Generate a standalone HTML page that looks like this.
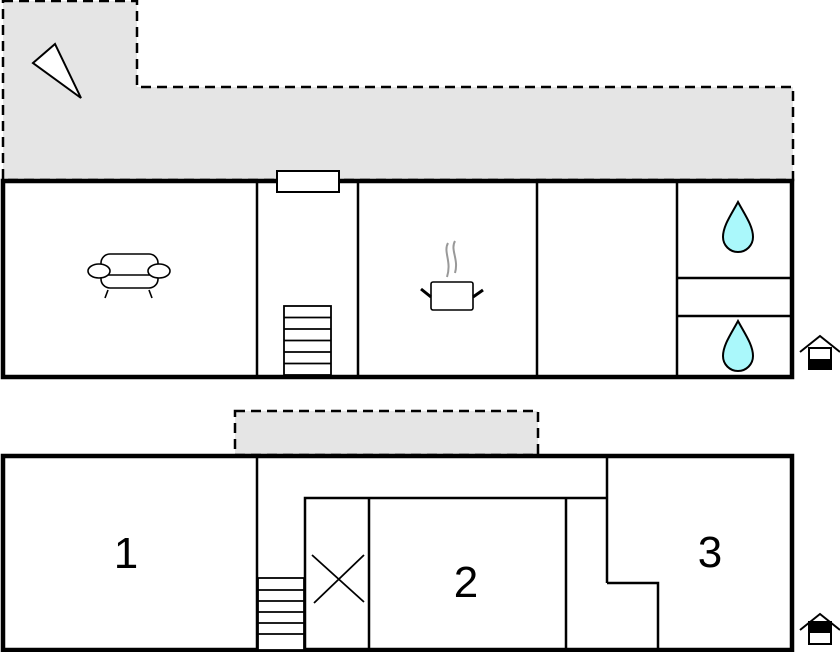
<!DOCTYPE html>
<html><head><meta charset="utf-8"><style>body{margin:0;background:#fff}svg{display:block}</style></head>
<body>
<svg width="840" height="652" viewBox="0 0 840 652" xmlns="http://www.w3.org/2000/svg" font-family="Liberation Sans, sans-serif">
<defs>
<path id="drop" d="M0,-26 C-7,-13 -15,-2 -15,9 A15,15 0 0 0 15,9 C15,-2 7,-13 0,-26Z"/>
</defs>
<path d="M3,1 H137 V87 H793 V180 H3 Z" fill="#e5e5e5" stroke="#000" stroke-width="2.5" stroke-dasharray="10,6"/>
<rect x="235" y="411" width="303" height="44" fill="#e5e5e5" stroke="#000" stroke-width="2.5" stroke-dasharray="10,6"/>
<polygon points="33,63 55,44 81,98" fill="#fff" stroke="#000" stroke-width="2"/>
<rect x="3" y="181" width="789" height="196" fill="#fff" stroke="#000" stroke-width="4.5"/>
<g stroke="#000" stroke-width="2.5" fill="none">
<line x1="257" y1="181" x2="257" y2="377"/>
<line x1="358" y1="181" x2="358" y2="377"/>
<line x1="537" y1="181" x2="537" y2="377"/>
<line x1="677" y1="181" x2="677" y2="377"/>
<line x1="677" y1="278" x2="791" y2="278"/>
<line x1="677" y1="316" x2="791" y2="316"/>
</g>
<rect x="277" y="171" width="62" height="21" fill="#fff" stroke="#000" stroke-width="2"/>
<g stroke="#000" stroke-width="1.8" fill="#fff">
<rect x="284" y="306" width="47" height="69"/>
<line x1="284" y1="317.5" x2="331" y2="317.5"/><line x1="284" y1="329" x2="331" y2="329"/>
<line x1="284" y1="340.5" x2="331" y2="340.5"/><line x1="284" y1="352" x2="331" y2="352"/><line x1="284" y1="363.5" x2="331" y2="363.5"/>
</g>
<g stroke="#000" stroke-width="1.6" fill="#fff">
<rect x="101" y="254" width="57" height="34" rx="9"/>
<line x1="108" y1="290" x2="105" y2="298"/><line x1="149" y1="290" x2="152" y2="298"/>
<line x1="108" y1="275" x2="150" y2="275"/>
<ellipse cx="99" cy="271" rx="11" ry="7"/><ellipse cx="159" cy="271" rx="11" ry="7"/>
</g>
<g fill="none">
<path d="M448,243 C443,252 452,261 447,277 M455,241 C450,250 459,259 455,273" stroke="#999" stroke-width="2"/>
<rect x="431" y="282" width="42" height="28" rx="2" fill="#fff" stroke="#000" stroke-width="1.6"/>
<line x1="421" y1="289" x2="431" y2="297" stroke="#000" stroke-width="3"/>
<line x1="473" y1="297" x2="483" y2="290" stroke="#000" stroke-width="3"/>
</g>
<g fill="#aaf8fb" stroke="#000" stroke-width="2">
<use href="#drop" x="738" y="228"/>
<use href="#drop" x="738" y="347"/>
<use href="#drop" x="612" y="616"/>
</g>
<rect x="3" y="456" width="789" height="194" fill="#fff" stroke="#000" stroke-width="4.5"/>
<g stroke="#000" stroke-width="2.5" fill="none">
<line x1="257" y1="456" x2="257" y2="650"/>
<polyline points="305,650 305,498 607,498"/>
<line x1="607" y1="456" x2="607" y2="583"/>
<polyline points="607,583 658,583 658,650"/>
<line x1="369" y1="498" x2="369" y2="650"/>
<line x1="566" y1="498" x2="566" y2="650"/>
</g>
<g stroke="#000" stroke-width="1.8" fill="#fff">
<rect x="258" y="578" width="46" height="72"/>
<line x1="258" y1="590" x2="304" y2="590"/><line x1="258" y1="601" x2="304" y2="601"/>
<line x1="258" y1="612" x2="304" y2="612"/><line x1="258" y1="623" x2="304" y2="623"/><line x1="258" y1="634" x2="304" y2="634"/>
</g>
<g stroke="#000" stroke-width="1.8"><line x1="312" y1="555" x2="364" y2="602"/><line x1="364" y1="555" x2="314" y2="603"/></g>
<g font-size="44" fill="#000" text-anchor="middle">
<text x="126" y="568">1</text><text x="466" y="597">2</text><text x="710" y="567">3</text>
</g>
<g stroke="#000" stroke-width="2" fill="#fff">
<polyline points="800,352 820,336 840,352"/>
<rect x="809" y="348" width="22" height="21"/>
<rect x="809" y="360" width="22" height="9" fill="#000"/>
<polyline points="800,630 820,614 840,630"/>
<rect x="809" y="622" width="22" height="22"/>
<rect x="809" y="622" width="22" height="10" fill="#000"/>
</g>
</svg>
</body></html>
